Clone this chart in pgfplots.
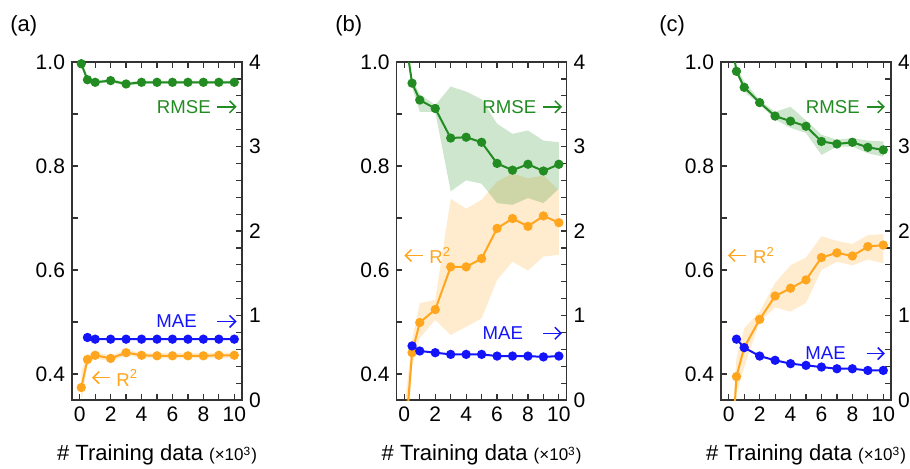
\documentclass[border=0pt]{standalone}
\usepackage{fontspec}
\setmainfont{Liberation Sans}
\usepackage{pgfplots}
\pgfplotsset{compat=1.18}
\usepackage{pgfplotstable}
\usepgfplotslibrary{fillbetween}
\usetikzlibrary{arrows.meta}
\definecolor{cG}{RGB}{34,139,34}
\definecolor{cO}{RGB}{255,165,30}
\definecolor{cB}{RGB}{20,20,250}

\pgfplotstableread{
x r2 r2lo r2hi rmse rmselo rmsehi
0.1 0.374 0.345 0.405 3.98 3.95 4.01
0.5 0.428 0.418 0.438 3.79 3.76 3.82
1 0.436 0.430 0.442 3.76 3.74 3.78
2 0.430 0.424 0.436 3.78 3.76 3.80
3 0.441 0.436 0.446 3.74 3.72 3.76
4 0.436 0.431 0.441 3.76 3.74 3.78
5 0.435 0.430 0.440 3.76 3.74 3.78
6 0.435 0.430 0.440 3.76 3.74 3.78
7 0.435 0.430 0.440 3.76 3.74 3.78
8 0.435 0.430 0.440 3.76 3.74 3.78
9 0.436 0.431 0.441 3.76 3.74 3.78
10 0.436 0.431 0.441 3.76 3.74 3.78
}\tA
\pgfplotstableread{
x mae
0.5 0.74
1 0.72
2 0.72
3 0.72
4 0.72
5 0.72
6 0.72
7 0.72
8 0.72
9 0.72
10 0.72
}\mA

\pgfplotstableread{
x r2 r2lo r2hi rmse rmselo rmsehi
0.1 0.29 0.22 0.36 4.25 4.15 4.35
0.5 0.441 0.415 0.465 3.75 3.70 3.80
1 0.499 0.469 0.536 3.55 3.41 3.62
2 0.524 0.504 0.543 3.45 3.41 3.49
3 0.606 0.475 0.737 3.10 2.47 3.71
4 0.606 0.491 0.718 3.11 2.60 3.65
5 0.622 0.507 0.735 3.05 2.56 3.56
6 0.680 0.581 0.770 2.80 2.33 3.27
7 0.699 0.616 0.786 2.72 2.31 3.15
8 0.684 0.599 0.776 2.79 2.39 3.19
9 0.704 0.626 0.782 2.71 2.33 3.07
10 0.691 0.629 0.753 2.79 2.50 3.05
}\tB
\pgfplotstableread{
x mae
0.5 0.64
1 0.58
2 0.56
3 0.54
4 0.54
5 0.54
6 0.52
7 0.52
8 0.52
9 0.51
10 0.52
}\mB

\pgfplotstableread{
x r2 r2lo r2hi rmse rmselo rmsehi
0.1 0.20 0.14 0.26 4.35 4.30 4.40
0.5 0.395 0.36 0.43 3.89 3.87 3.94
1 0.451 0.414 0.488 3.70 3.65 3.77
2 0.505 0.500 0.520 3.52 3.50 3.55
3 0.550 0.528 0.575 3.36 3.32 3.41
4 0.565 0.520 0.609 3.30 3.22 3.47
5 0.581 0.537 0.624 3.24 3.16 3.31
6 0.624 0.600 0.665 3.06 2.90 3.14
7 0.633 0.616 0.656 3.03 3.00 3.08
8 0.627 0.609 0.650 3.05 3.00 3.10
9 0.645 0.620 0.667 2.99 2.92 3.07
10 0.648 0.613 0.669 2.96 2.88 3.06
}\tC
\pgfplotstableread{
x mae
0.5 0.72
1 0.62
2 0.52
3 0.47
4 0.43
5 0.41
6 0.39
7 0.37
8 0.37
9 0.35
10 0.35
}\mC

\pgfplotsset{
 base/.style={scale only axis, width=85pt, height=169pt, xmin=-0.5, xmax=10.5, anchor=south west,
   tick align=inside, major tick length=2.8pt, minor tick length=2.8pt,
   axis line style={line width=0.8pt, black!80},
   every tick/.style={line width=0.6pt, black!80},
   tick label style={font=\fontsize{10.5}{12}\selectfont},
   /pgf/number format/assume math mode=true},
 leftax/.style={base, ymin=0.35, ymax=1.0, ytick={0.4,0.6,0.8,1.0}, minor ytick={0.5,0.7,0.9}, ytick pos=left,
   yticklabel style={/pgf/number format/fixed, /pgf/number format/fixed zerofill, /pgf/number format/precision=1},
   xtick={0,1,...,10}, xticklabels={0,,2,,4,,6,,8,,10}, xtick pos=both, xticklabel pos=lower,
   xlabel={\# Training data {\fontsize{8.5}{10}\selectfont(×10\textsuperscript{3})}},
   xlabel style={font=\fontsize{11}{13}\selectfont, inner sep=0pt, at={(axis description cs:0.5,0)}, anchor=center, yshift=-27.5pt}},
 rightax/.style={base, ymin=0, ymax=4, ytick={0,1,2,3,4}, minor y tick num=4,
   xtick=\empty, ytick pos=right, yticklabel pos=right},
 band/.style={draw=none, fill opacity=0.22},
 ln/.style={line width=1pt, mark=*, mark size=1.8pt},
}
\tikzset{
 ann/.style={font=\fontsize{9.3}{11}\selectfont, inner sep=0pt},
 arr/.style={line width=0.75pt, -{Straight Barb[length=3pt,width=6pt]}},
}

\begin{document}
\begin{tikzpicture}
\node[anchor=west, font=\fontsize{11}{13}\selectfont, inner sep=0pt] at (5pt,221pt) {(a)};
\node[anchor=west, font=\fontsize{11}{13}\selectfont, inner sep=0pt] at (167.5pt,221pt) {(b)};
\node[anchor=west, font=\fontsize{11}{13}\selectfont, inner sep=0pt] at (329.5pt,221pt) {(c)};

% ---------- (a)
\begin{axis}[leftax, at={(36pt,34pt)}]
\addplot[draw=none, name path=aU] table[x=x,y=r2hi]{\tA};
\addplot[draw=none, name path=aL] table[x=x,y=r2lo]{\tA};
\addplot[cO, band] fill between[of=aU and aL];
\addplot[cO, ln] table[x=x,y=r2]{\tA};
\draw[cO, arr] (axis cs:1.95,0.393) -- (axis cs:0.8,0.393);
\node[cO, ann, anchor=west] at (axis cs:2.35,0.393) {R\textsuperscript{2}};
\end{axis}
\begin{axis}[rightax, at={(36pt,34pt)}]
\addplot[draw=none, name path=aRU] table[x=x,y=rmsehi]{\tA};
\addplot[draw=none, name path=aRL] table[x=x,y=rmselo]{\tA};
\addplot[cG, band] fill between[of=aRU and aRL];
\addplot[cG, ln] table[x=x,y=rmse]{\tA};
\addplot[cB, ln] table[x=x,y=mae]{\mA};
\node[cG, ann, anchor=east] at (axis cs:8.5,3.47) {RMSE};
\draw[cG, arr] (axis cs:8.9,3.47) -- (axis cs:10.15,3.47);
\node[cB, ann, anchor=east] at (axis cs:7.6,0.93) {MAE};
\draw[cB, arr] (axis cs:8.9,0.93) -- (axis cs:10.15,0.93);
\end{axis}

% ---------- (b)
\begin{axis}[leftax, at={(198.3pt,34pt)}]
\addplot[draw=none, name path=bU] table[x=x,y=r2hi]{\tB};
\addplot[draw=none, name path=bL] table[x=x,y=r2lo]{\tB};
\addplot[cO, band] fill between[of=bU and bL];
\addplot[cO, ln] table[x=x,y=r2]{\tB};
\draw[cO, arr] (axis cs:1.2,0.628) -- (axis cs:0.0,0.628);
\node[cO, ann, anchor=west] at (axis cs:1.6,0.628) {R\textsuperscript{2}};
\end{axis}
\begin{axis}[rightax, at={(198.3pt,34pt)}]
\addplot[draw=none, name path=bRU] table[x=x,y=rmsehi]{\tB};
\addplot[draw=none, name path=bRL] table[x=x,y=rmselo]{\tB};
\addplot[cG, band] fill between[of=bRU and bRL];
\addplot[cG, ln] table[x=x,y=rmse]{\tB};
\addplot[cB, ln] table[x=x,y=mae]{\mB};
\node[cG, ann, anchor=east] at (axis cs:8.56,3.47) {RMSE};
\draw[cG, arr] (axis cs:9.0,3.47) -- (axis cs:10.2,3.47);
\node[cB, ann, anchor=east] at (axis cs:7.7,0.79) {MAE};
\draw[cB, arr] (axis cs:9.0,0.79) -- (axis cs:10.2,0.79);
\end{axis}

% ---------- (c)
\begin{axis}[leftax, at={(360.5pt,34pt)}]
\addplot[draw=none, name path=cU] table[x=x,y=r2hi]{\tC};
\addplot[draw=none, name path=cL] table[x=x,y=r2lo]{\tC};
\addplot[cO, band] fill between[of=cU and cL];
\addplot[cO, ln] table[x=x,y=r2]{\tC};
\draw[cO, arr] (axis cs:1.1,0.628) -- (axis cs:-0.05,0.628);
\node[cO, ann, anchor=west] at (axis cs:1.55,0.628) {R\textsuperscript{2}};
\end{axis}
\begin{axis}[rightax, at={(360.5pt,34pt)}]
\addplot[draw=none, name path=cRU] table[x=x,y=rmsehi]{\tC};
\addplot[draw=none, name path=cRL] table[x=x,y=rmselo]{\tC};
\addplot[cG, band] fill between[of=cRU and cRL];
\addplot[cG, ln] table[x=x,y=rmse]{\tC};
\addplot[cB, ln] table[x=x,y=mae]{\mC};
\node[cG, ann, anchor=east] at (axis cs:8.5,3.47) {RMSE};
\draw[cG, arr] (axis cs:8.93,3.47) -- (axis cs:10.1,3.47);
\node[cB, ann, anchor=east] at (axis cs:7.6,0.55) {MAE};
\draw[cB, arr] (axis cs:8.93,0.55) -- (axis cs:10.1,0.55);
\end{axis}
\pgfresetboundingbox
\path (0,0) rectangle (455pt,234pt);
\end{tikzpicture}
\end{document}
